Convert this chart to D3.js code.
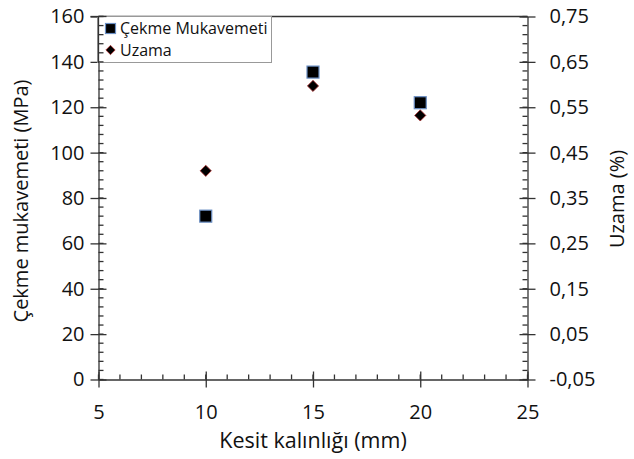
<!DOCTYPE html>
<html>
<head>
<meta charset="utf-8">
<script src="https://cdn.jsdelivr.net/npm/d3@7"></script>
<style>
    body { margin: 0; background: white; }
    text { font-family: 'Open Sans', 'Liberation Sans', sans-serif; fill: #111; }
</style>
</head>
<body>
<div id="graphContainer"></div>
<script>
const thickness = [10, 15, 20];
const strength = [72, 135.5, 122];
const elongation = [0.41, 0.597, 0.532];
const leftTicks = [0, 20, 40, 60, 80, 100, 120, 140, 160];
const rightTicks = [-0.05, 0.05, 0.15, 0.25, 0.35, 0.45, 0.55, 0.65, 0.75];
const xTicks = [5, 10, 15, 20, 25];

drawGraph();

function drawGraph() {
    const width = 634;
    const height = 459;
    const m = { left: 98.5, right: 527.5, top: 16.5, bottom: 379.5 };

    const svg = d3.select('#graphContainer')
        .append('svg')
        .attr('width', width)
        .attr('height', height);

    const x = d3.scaleLinear().domain([5, 25]).range([m.left, m.right]);
    const yL = d3.scaleLinear().domain([0, 160]).range([m.bottom, m.top]);
    const yR = d3.scaleLinear().domain([-0.05, 0.75]).range([m.bottom, m.top]);

    const comma = d3.formatLocale({ decimal: ',', thousands: '.', grouping: [3], currency: ['', ''], minus: '-' });
    const fmtR = comma.format('.2f');

    // top border
    svg.append('line')
        .attr('x1', m.left).attr('x2', m.right)
        .attr('y1', m.top).attr('y2', m.top)
        .attr('stroke', '#333').attr('stroke-width', 1.3);

    // minor ticks (inside)
    const g = svg.append('g').attr('stroke', '#333').attr('stroke-width', 1.3);
    g.selectAll('.mx').data(d3.range(5, 25.01, 1)).enter().append('line')
        .attr('x1', d => x(d)).attr('x2', d => x(d))
        .attr('y1', m.bottom).attr('y2', m.bottom - 5);
    g.selectAll('.ml').data(d3.range(0, 160.01, 4)).enter().append('line')
        .attr('x1', m.left).attr('x2', m.left + 5)
        .attr('y1', d => yL(d)).attr('y2', d => yL(d));
    g.selectAll('.mr').data(d3.range(0, 40.01, 1).map(i => -0.05 + i * 0.02)).enter().append('line')
        .attr('x1', m.right).attr('x2', m.right - 5)
        .attr('y1', d => yR(d)).attr('y2', d => yR(d));

    // axes with major ticks crossing the line
    const xAxis = svg.append('g')
        .attr('transform', 'translate(0,' + m.bottom + ')')
        .call(d3.axisBottom(x).tickValues(xTicks).tickSize(8).tickSizeOuter(0).tickPadding(17));
    xAxis.selectAll('.tick line').attr('y1', -8);

    const lAxis = svg.append('g')
        .attr('transform', 'translate(' + m.left + ',0)')
        .call(d3.axisLeft(yL).tickValues(leftTicks).tickSize(8).tickSizeOuter(0).tickPadding(6));
    lAxis.selectAll('.tick line').attr('x1', 8);

    const rAxis = svg.append('g')
        .attr('transform', 'translate(' + m.right + ',0)')
        .call(d3.axisRight(yR).tickValues(rightTicks).tickFormat(fmtR).tickSize(8).tickSizeOuter(0).tickPadding(14));
    rAxis.selectAll('.tick line').attr('x1', -8);

    svg.selectAll('.domain').attr('stroke', '#333').attr('stroke-width', 1.3);
    svg.selectAll('.tick line').attr('stroke', '#333').attr('stroke-width', 1.3);
    svg.selectAll('.tick text').style('font-size', '20px').attr('fill', '#111');

    // axis titles
    svg.append('text')
        .attr('x', (m.left + m.right) / 2).attr('y', 448)
        .attr('text-anchor', 'middle').style('font-size', '21.5px')
        .text('Kesit kalınlığı (mm)');
    svg.append('text')
        .attr('transform', 'translate(28,' + 201 + ') rotate(-90)')
        .attr('text-anchor', 'middle').style('font-size', '20px')
        .text('Çekme mukavemeti (MPa)');
    svg.append('text')
        .attr('transform', 'translate(624,' + 199 + ') rotate(-90)')
        .attr('text-anchor', 'middle').style('font-size', '20px')
        .text('Uzama (%)');

    // series
    svg.append('g').selectAll('rect').data(thickness).enter().append('rect')
        .attr('x', (d) => x(d) - 6)
        .attr('y', (d, i) => yL(strength[i]) - 6)
        .attr('width', 12).attr('height', 12)
        .attr('fill', '#000')
        .attr('stroke', '#6b8fc4').attr('stroke-width', 1.2);

    const diamond = d3.symbol().type(d3.symbolDiamond2).size(80);
    svg.append('g').selectAll('path').data(thickness).enter().append('path')
        .attr('d', diamond)
        .attr('transform', (d, i) => 'translate(' + x(d) + ',' + yR(elongation[i]) + ')')
        .attr('fill', '#000')
        .attr('stroke', '#b03030').attr('stroke-width', 0.8);

    // legend
    const leg = svg.append('g');
    leg.append('rect')
        .attr('x', 97.5).attr('y', 16.5).attr('width', 174).attr('height', 46)
        .attr('fill', 'white').attr('stroke', '#999').attr('stroke-width', 1);
    leg.append('rect')
        .attr('x', 105.5).attr('y', 23.5).attr('width', 10).attr('height', 10)
        .attr('fill', '#000').attr('stroke', '#6b8fc4').attr('stroke-width', 1.2);
    leg.append('path')
        .attr('d', d3.symbol().type(d3.symbolDiamond2).size(55))
        .attr('transform', 'translate(110.5,50)')
        .attr('fill', '#000').attr('stroke', '#b03030').attr('stroke-width', 0.8);
    leg.append('text').attr('x', 120).attr('y', 34).style('font-size', '16px').text('Çekme Mukavemeti');
    leg.append('text').attr('x', 120).attr('y', 56).style('font-size', '16px').text('Uzama');

    // redraw left axis line over legend edge
    svg.append('line')
        .attr('x1', m.left).attr('x2', m.left).attr('y1', m.top).attr('y2', 63)
        .attr('stroke', '#333').attr('stroke-width', 1.3);
    svg.append('g').attr('stroke', '#333').attr('stroke-width', 1.3)
        .selectAll('line').data(d3.range(140, 160.01, 4)).enter().append('line')
        .attr('x1', m.left).attr('x2', m.left + 5)
        .attr('y1', d => yL(d)).attr('y2', d => yL(d));
    svg.append('line')
        .attr('x1', m.left - 8).attr('x2', m.left + 8).attr('y1', m.top).attr('y2', m.top)
        .attr('stroke', '#333').attr('stroke-width', 1.3);
}
</script>
</body>
</html>
